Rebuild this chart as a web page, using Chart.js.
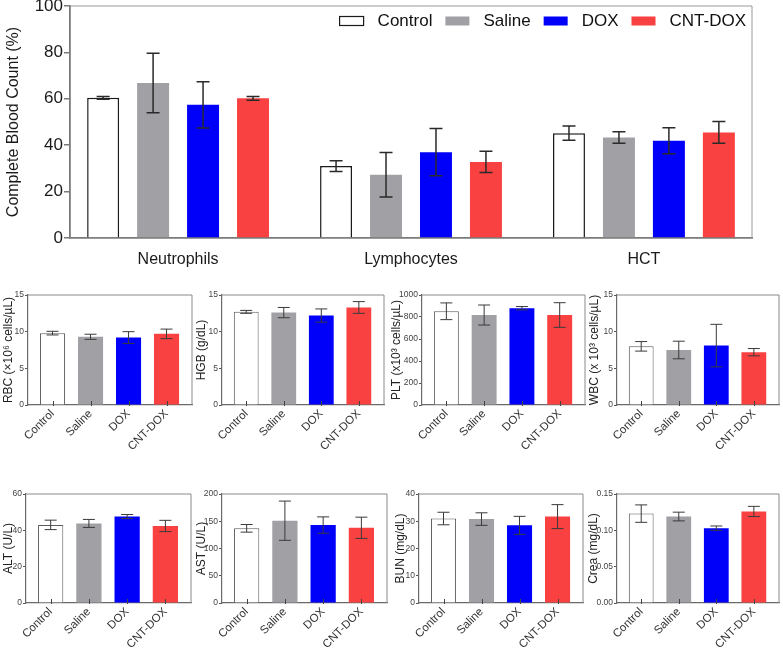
<!DOCTYPE html>
<html>
<head>
<meta charset="utf-8">
<script src="https://cdn.jsdelivr.net/npm/chart.js@4.4.0/dist/chart.umd.min.js"></script>
<style>
  html, body { margin: 0; padding: 0; background: #fff; }
  body { width: 783px; height: 650px; position: relative; overflow: hidden; }
  canvas { position: absolute; }
</style>
</head>
<body>
<canvas id="cbc" width="783" height="275" style="left:0;top:0"></canvas>
<script>
// groups and colours shared by every panel
const groups = ['Control', 'Saline', 'DOX', 'CNT-DOX'];
const groupColors = ['#ffffff', '#a1a1a5', '#0000fa', '#f94141'];

// top chart: complete blood count (%)
const cbcCategories = ['Neutrophils', 'Lymphocytes', 'HCT'];
const cbcTicks = [0, 20, 40, 60, 80, 100];
const cbcControl = [60.4, 31.0, 45.2];
const cbcControlErr = [0.6, 2.3, 3.1];
const cbcSaline = [66.8, 27.3, 43.3];
const cbcSalineErr = [12.8, 9.6, 2.5];
const cbcDox = [57.4, 37.0, 41.9];
const cbcDoxErr = [10.0, 10.2, 5.6];
const cbcCntDox = [60.2, 32.8, 45.5];
const cbcCntDoxErr = [0.8, 4.6, 4.7];

// small panels
const rbcMean = [9.8, 9.3, 9.2, 9.7];
const rbcErr = [0.25, 0.35, 0.8, 0.65];
const rbcTicks = [0, 5, 10, 15];
const hgbMean = [12.7, 12.6, 12.2, 13.3];
const hgbErr = [0.2, 0.7, 0.9, 0.8];
const hgbTicks = [0, 5, 10, 15];
const pltMean = [852, 818, 880, 818];
const pltErr = [76, 91, 15, 112];
const pltTicks = [0, 200, 400, 600, 800, 1000];
const wbcMean = [8.0, 7.5, 8.1, 7.2];
const wbcErr = [0.65, 1.2, 2.9, 0.5];
const wbcTicks = [0, 5, 10, 15];
const altMean = [43.0, 43.8, 47.6, 42.4];
const altErr = [2.6, 2.2, 1.1, 3.1];
const altTicks = [0, 20, 40, 60];
const astMean = [137, 151, 143, 138];
const astErr = [7, 36, 15, 19.5];
const astTicks = [0, 50, 100, 150, 200];
const bunMean = [31.0, 30.8, 28.5, 31.7];
const bunErr = [2.3, 2.3, 3.3, 4.4];
const bunTicks = [0, 10, 20, 30, 40];
const creaMean = [0.123, 0.119, 0.103, 0.126];
const creaErr = [0.012, 0.006, 0.003, 0.007];
const creaTicks = [0, 0.05, 0.10, 0.15];

const FONT = '"Liberation Sans", Arial, sans-serif';

// error bars drawn from each bar element and the y scale
const errorBars = {
  id: 'errorBars',
  afterDatasetsDraw(chart, args, opts) {
    const ctx = chart.ctx;
    const y = chart.scales.y;
    chart.data.datasets.forEach((ds, i) => {
      if (!ds.errors) return;
      chart.getDatasetMeta(i).data.forEach((bar, j) => {
        const v = ds.data[j].y, e = ds.errors[j];
        const top = y.getPixelForValue(v + e);
        const bot = y.getPixelForValue(v - e);
        ctx.save();
        ctx.strokeStyle = opts.color || '#333';
        ctx.lineWidth = opts.width || 1;
        ctx.beginPath();
        ctx.moveTo(bar.x, top); ctx.lineTo(bar.x, bot);
        ctx.moveTo(bar.x - opts.cap, top); ctx.lineTo(bar.x + opts.cap, top);
        ctx.moveTo(bar.x - opts.cap, bot); ctx.lineTo(bar.x + opts.cap, bot);
        ctx.stroke();
        ctx.restore();
      });
    });
  }
};

// top and right edges of the plot box, plus inward x tick marks
const frame = {
  id: 'frame',
  afterDraw(chart, args, opts) {
    const { ctx, chartArea: a } = chart;
    ctx.save();
    ctx.strokeStyle = opts.color || '#888';
    ctx.lineWidth = opts.width || 1;
    ctx.beginPath();
    ctx.moveTo(a.left, a.top);
    ctx.lineTo(a.right, a.top);
    ctx.lineTo(a.right, a.bottom);
    ctx.stroke();
    if (opts.xTick) {
      const xs = chart.scales.x;
      ctx.strokeStyle = '#444';
      ctx.beginPath();
      xs.ticks.forEach(t => {
        const px = Math.round(xs.getPixelForValue(t.value)) + 0.5;
        ctx.moveTo(px, a.bottom - opts.xTick);
        ctx.lineTo(px, a.bottom + 1);
      });
      ctx.stroke();
    }
    ctx.restore();
  }
};

Chart.register(errorBars, frame);

// legend inside the top chart, right aligned
const cbcLegend = {
  id: 'cbcLegend',
  afterDraw(chart) {
    const { ctx, chartArea } = chart;
    const ds = chart.data.datasets;
    ctx.save();
    ctx.font = '17px ' + FONT;
    ctx.textBaseline = 'middle';
    const y = chartArea.top + 15;
    let x = chartArea.right - 6;
    for (let i = ds.length - 1; i >= 0; i--) {
      const w = ctx.measureText(ds[i].label).width;
      ctx.fillStyle = '#111';
      ctx.fillText(ds[i].label, x - w, y);
      const bx = x - w - 14 - 24;
      ctx.fillStyle = ds[i].backgroundColor;
      ctx.fillRect(bx, y - 4.5, 24, 9);
      if (ds[i].borderWidth) {
        ctx.strokeStyle = ds[i].borderColor;
        ctx.lineWidth = 1.2;
        ctx.strokeRect(bx, y - 4.5, 24, 9);
      }
      x = bx - 13;
    }
    ctx.restore();
  }
};

function cbcSet(label, vals, errs, color, border) {
  return {
    label: label,
    data: vals.map((v, i) => ({ x: i, y: v })),
    errors: errs,
    backgroundColor: color,
    borderColor: border ? '#1a1a1a' : color,
    borderWidth: border ? 1.5 : 0,
    barPercentage: 0.64,
    categoryPercentage: 0.858
  };
}

new Chart(document.getElementById('cbc'), {
  type: 'bar',
  data: {
    datasets: [
      cbcSet(groups[0], cbcControl, cbcControlErr, groupColors[0], true),
      cbcSet(groups[1], cbcSaline, cbcSalineErr, groupColors[1]),
      cbcSet(groups[2], cbcDox, cbcDoxErr, groupColors[2]),
      cbcSet(groups[3], cbcCntDox, cbcCntDoxErr, groupColors[3])
    ]
  },
  plugins: [cbcLegend],
  options: {
    responsive: false,
    animation: false,
    layout: { padding: { top: 6, right: 31, left: 0, bottom: 0 } },
    plugins: {
      legend: { display: false },
      tooltip: { enabled: false },
      errorBars: { color: '#2a2a2a', width: 1.5, cap: 6.5 },
      frame: { color: '#9a9a9a', width: 1 }
    },
    scales: {
      x: {
        type: 'linear', offset: false,
        min: -0.464, max: 2.464,
        afterBuildTicks: s => { s.ticks = cbcCategories.map((c, i) => ({ value: i })); },
        afterFit: s => { s.height = 37; s.paddingLeft = 0; s.paddingRight = 0; },
        grid: { display: false, drawTicks: false, offset: false },
        border: { color: '#7a7a7a', width: 1.8 },
        ticks: { callback: v => cbcCategories[v], color: '#1a1a1a', font: { family: FONT, size: 16 }, padding: 12, maxRotation: 0 }
      },
      y: {
        min: 0, max: 100,
        afterBuildTicks: s => { s.ticks = cbcTicks.map(v => ({ value: v })); },
        afterFit: s => { s.width = 70; s.paddingTop = 0; s.paddingBottom = 0; },
        grid: { drawOnChartArea: false, tickLength: 6, color: '#7a7a7a', lineWidth: 1.5 },
        border: { color: '#7a7a7a', width: 1.8 },
        ticks: { color: '#1a1a1a', font: { family: FONT, size: 17 }, padding: 1 },
        title: { display: true, text: 'Complete Blood Count (%)', color: '#1a1a1a', font: { family: FONT, size: 16 }, padding: { top: 4, bottom: 0 } }
      }
    }
  }
});

// small panels
const panels = [
  { title: 'RBC (×10⁶ cells/µL)', mean: rbcMean, err: rbcErr, ticks: rbcTicks },
  { title: 'HGB (g/dL)', mean: hgbMean, err: hgbErr, ticks: hgbTicks },
  { title: 'PLT (x10³ cells/µL)', mean: pltMean, err: pltErr, ticks: pltTicks },
  { title: 'WBC (x 10³ cells/µL)', mean: wbcMean, err: wbcErr, ticks: wbcTicks },
  { title: 'ALT (U/L)', mean: altMean, err: altErr, ticks: altTicks },
  { title: 'AST (U/L)', mean: astMean, err: astErr, ticks: astTicks },
  { title: 'BUN (mg/dL)', mean: bunMean, err: bunErr, ticks: bunTicks },
  { title: 'Crea (mg/dL)', mean: creaMean, err: creaErr, ticks: creaTicks, digits: 2 }
];

// plot rectangles on the page
const panelBoxes = [
  { left: 28, right: 192, top: 295, bottom: 405, base: 455, titleX: 8 },
  { left: 222, right: 384, top: 295, bottom: 405, base: 455, titleX: 201 },
  { left: 422, right: 585, top: 295, bottom: 405, base: 455, titleX: 396 },
  { left: 617, right: 779, top: 295, bottom: 405, base: 455, titleX: 594 },
  { left: 26, right: 191, top: 494, bottom: 603, base: 650, titleX: 8 },
  { left: 222, right: 387, top: 494, bottom: 603, base: 650, titleX: 201 },
  { left: 419, right: 583, top: 494, bottom: 603, base: 650, titleX: 400 },
  { left: 617, right: 779, top: 494, bottom: 603, base: 650, titleX: 593 }
];

panels.forEach((p, k) => {
  const b = panelBoxes[k];
  const cLeft = b.titleX - 8;
  const cTop = b.top - 10;
  const c = document.createElement('canvas');
  c.width = b.right + 3 - cLeft;
  c.height = b.base - cTop;
  c.style.left = cLeft + 'px';
  c.style.top = cTop + 'px';
  document.body.appendChild(c);

  new Chart(c, {
    type: 'bar',
    data: {
      datasets: [{
        data: p.mean.map((v, i) => ({ x: i, y: v })),
        errors: p.err,
        backgroundColor: groupColors,
        borderColor: ['#5a5a5a', groupColors[1], groupColors[2], groupColors[3]],
        borderWidth: [1, 0, 0, 0],
        barPercentage: 0.66,
        categoryPercentage: 1
      }]
    },
    options: {
      responsive: false,
      animation: false,
      layout: { padding: { top: 10, right: 3, left: 0, bottom: 0 } },
      plugins: {
        legend: { display: false },
        tooltip: { enabled: false },
        errorBars: { color: '#3a3a3a', width: 1, cap: 6 },
        frame: { color: '#8a8a8a', width: 1, xTick: 4 }
      },
      scales: {
        x: {
          type: 'linear', offset: false,
          min: -0.645, max: 3.67,
          afterBuildTicks: s => { s.ticks = groups.map((g, i) => ({ value: i })); },
          afterFit: s => { s.height = b.base - b.bottom; s.paddingLeft = 0; s.paddingRight = 0; },
          grid: { drawOnChartArea: false, drawTicks: false, offset: false },
          border: { color: '#6a6a6a', width: 1.2 },
          ticks: { callback: v => groups[v], color: '#333', font: { family: FONT, size: 11.5 }, padding: 2, minRotation: 45, maxRotation: 45 }
        },
        y: {
          min: 0, max: p.ticks[p.ticks.length - 1],
          afterBuildTicks: s => { s.ticks = p.ticks.map(v => ({ value: v })); },
          afterFit: s => { s.width = b.left - cLeft; s.paddingTop = 0; s.paddingBottom = 0; },
          grid: { drawOnChartArea: false, tickLength: 3, color: '#555' },
          border: { color: '#6a6a6a', width: 1.2 },
          ticks: {
            callback: v => p.digits ? v.toFixed(p.digits) : v,
            color: '#444', font: { family: FONT, size: 8.5 }, padding: 1
          },
          title: { display: true, text: p.title, color: '#222', font: { family: FONT, size: 12 }, padding: { top: 1, bottom: 0 } }
        }
      }
    }
  });
});
</script>
</body>
</html>
